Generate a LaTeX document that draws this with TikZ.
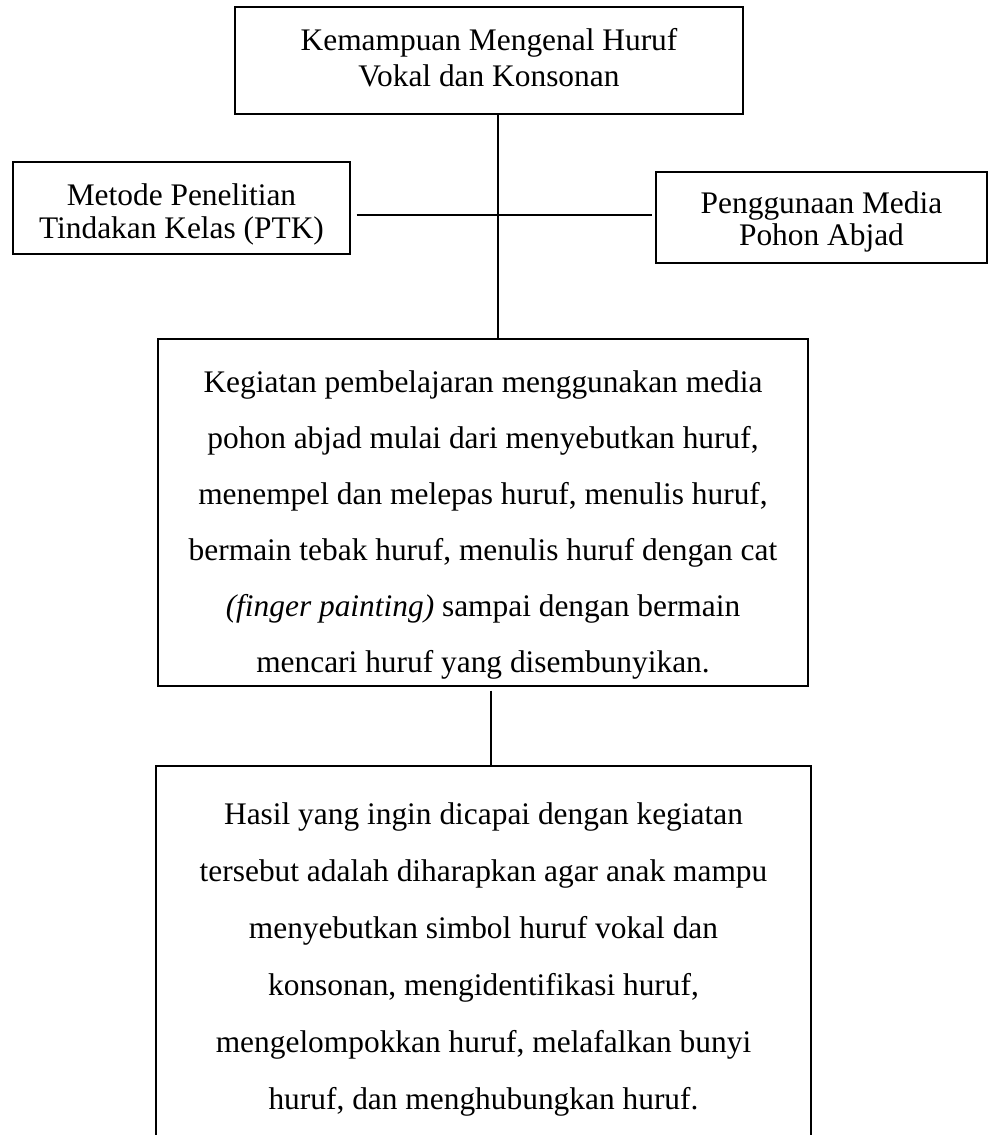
\documentclass[tikz,border=0pt]{standalone}
\usepackage{fontspec}
\setmainfont{Liberation Serif}
\begin{document}
\begin{tikzpicture}[x=1pt,y=-1pt,
  box/.style={draw, line width=1.3pt, inner sep=0pt, align=center, rectangle},
  bigtxt/.style={font=\fontsize{31.4}{56}\selectfont},
  conn/.style={line width=2.2pt},
  thinconn/.style={line width=1.5pt}]
\useasboundingbox (0,0) rectangle (989,1135);
\clip (0,0) rectangle (989,1135);

\node[box, font=\fontsize{31.4}{36}\selectfont, minimum width=508pt, minimum height=107pt] (top) at (489,60.5)
  {\rule{0pt}{24pt}Kemampuan Mengenal Huruf\\Vokal dan Konsonan\rule[-8pt]{0pt}{8pt}};

\node[box, font=\fontsize{31.4}{33}\selectfont, minimum width=337pt, minimum height=92pt] (lbox) at (181.5,208)
  {\rule{0pt}{35pt}Metode Penelitian\\Tindakan Kelas (PTK)\rule[-8pt]{0pt}{8pt}};

\node[box, font=\fontsize{31.4}{32}\selectfont, minimum width=331pt, minimum height=91pt] (rbox) at (821.5,217.5)
  {\rule{0pt}{31pt}Penggunaan Media\\Pohon Abjad\rule[-8pt]{0pt}{8pt}};

\node[box, bigtxt, minimum width=650pt, minimum height=347pt] (mid) at (483,512.5)
  {\rule{0pt}{47pt}Kegiatan pembelajaran menggunakan media\\
   pohon abjad mulai dari menyebutkan huruf,\\
   menempel dan melepas huruf, menulis huruf,\\
   bermain tebak huruf, menulis huruf dengan cat\\
   {\itshape (finger painting)} sampai dengan bermain\\
   mencari huruf yang disembunyikan.\rule[-8pt]{0pt}{8pt}};

\node[box, font=\fontsize{31.4}{57}\selectfont, minimum width=655pt, minimum height=374pt] (bot) at (483.5,953)
  {\rule{0pt}{35pt}Hasil yang ingin dicapai dengan kegiatan\\
   tersebut adalah diharapkan agar anak mampu\\
   menyebutkan simbol huruf vokal dan\\
   konsonan, mengidentifikasi huruf,\\
   mengelompokkan huruf, melafalkan bunyi\\
   huruf, dan menghubungkan huruf.\rule[-8pt]{0pt}{8pt}};

\draw[conn] ([xshift=9pt]top.south) -- ([xshift=15pt]mid.north);
\draw[conn] ([xshift=6pt,yshift=-7pt]lbox.east) -- ([xshift=-3pt,yshift=2.5pt]rbox.west);
\draw[thinconn] ([xshift=8pt,yshift=-4pt]mid.south) -- ([xshift=7.5pt]bot.north);
\end{tikzpicture}
\end{document}
